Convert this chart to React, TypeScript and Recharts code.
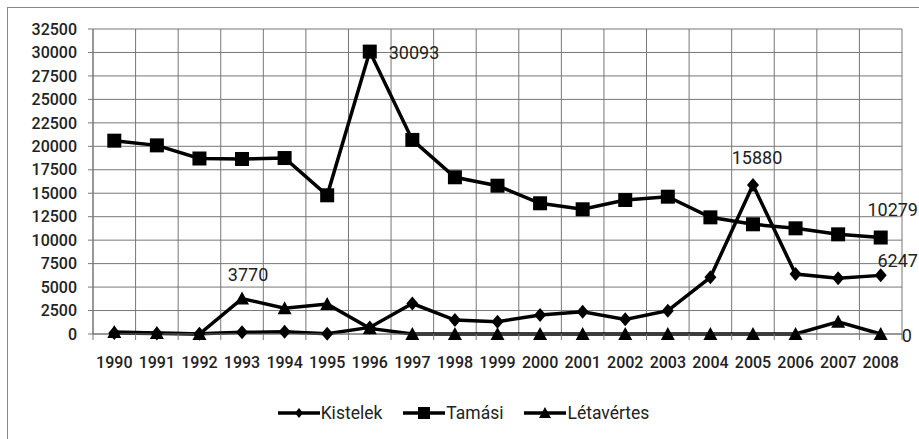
import React from "react";
import { LineChart, Line, XAxis, YAxis, CartesianGrid, LabelList } from "recharts";

const years = [
  "1990", "1991", "1992", "1993", "1994", "1995", "1996", "1997", "1998", "1999",
  "2000", "2001", "2002", "2003", "2004", "2005", "2006", "2007", "2008",
];
const kistelek = [100, 60, 20, 180, 230, 30, 700, 3250, 1490, 1310, 2030, 2380, 1560, 2480, 6040, 15880, 6390, 5930, 6247];
const tamasi = [20600, 20100, 18700, 18650, 18750, 14780, 30093, 20680, 16700, 15800, 13930, 13290, 14280, 14630, 12430, 11690, 11260, 10620, 10279];
const letavertes = [200, 100, 0, 3770, 2750, 3200, 600, 0, 0, 0, 0, 0, 0, 0, 0, 0, 0, 1310, 0];
const yTicks = [0, 2500, 5000, 7500, 10000, 12500, 15000, 17500, 20000, 22500, 25000, 27500, 30000, 32500];

// which points carry a value label
const kistelekLabelled = [15, 18];
const tamasiLabelled = [6, 18];
const letavertesLabelled = [3, 18];

const data = years.map((year, i) => ({
  year,
  kistelek: kistelek[i],
  tamasi: tamasi[i],
  letavertes: letavertes[i],
}));

const FONT = "Roboto, 'Liberation Sans', Arial, sans-serif";
const GRID = "#777";
const INK = "#000";

const W = 919;
const H = 439;
const MARGIN = { top: 29, right: 17, bottom: 55, left: 0 };
const Y_WIDTH = 93;
const X_HEIGHT = 50;
const PLOT_W = W - MARGIN.right - Y_WIDTH;
const HALF_BAND = PLOT_W / years.length / 2;

function diamondPoints(cx: number, cy: number, r = 7) {
  return `${cx},${cy - r} ${cx + r - 1},${cy} ${cx},${cy + r} ${cx - r + 1},${cy}`;
}
function trianglePoints(cx: number, cy: number, r = 7) {
  return `${cx},${cy - r} ${cx + r},${cy + r - 1} ${cx - r},${cy + r - 1}`;
}

const DiamondDot = (p: any) => (
  <polygon key={`d-${p.index}`} points={diamondPoints(p.cx, p.cy)} fill={INK} />
);
const SquareDot = (p: any) => (
  <rect key={`s-${p.index}`} x={p.cx - 7} y={p.cy - 7} width={14} height={14} fill={INK} />
);
const TriangleDot = (p: any) => (
  <polygon key={`t-${p.index}`} points={trianglePoints(p.cx, p.cy)} fill={INK} />
);

type Placement = { dx: number; dy: number; anchor: "start" | "middle" };

function makeLabel(indices: number[], places: Placement[]) {
  return (props: any) => {
    const { x, y, value, index } = props;
    const k = indices.indexOf(index);
    if (k < 0) return null;
    const pl = places[k];
    return (
      <text
        x={x + pl.dx}
        y={y + pl.dy}
        textAnchor={pl.anchor}
        dominantBaseline="central"
        fontFamily={FONT}
        fontSize={18}
        fill="#222"
      >
        {value}
      </text>
    );
  };
}

const kistelekLabel = makeLabel(kistelekLabelled, [
  { dx: 4, dy: -27, anchor: "middle" },
  { dx: 17, dy: -15, anchor: "middle" },
]);
const tamasiLabel = makeLabel(tamasiLabelled, [
  { dx: 19, dy: 1, anchor: "start" },
  { dx: 12, dy: -28, anchor: "middle" },
]);
const letavertesLabel = makeLabel(letavertesLabelled, [
  { dx: 6, dy: -24, anchor: "middle" },
  { dx: 21, dy: 1, anchor: "start" },
]);

function YearTick(props: any) {
  const { x, y, payload, index } = props;
  const last = index === years.length - 1;
  return (
    <g>
      <line x1={x - HALF_BAND} x2={x - HALF_BAND} y1={y} y2={y + 6} stroke={GRID} />
      {last && <line x1={x + HALF_BAND} x2={x + HALF_BAND} y1={y} y2={y + 6} stroke={GRID} />}
      <text x={x} y={y + 34} textAnchor="middle" fontFamily={FONT} fontSize={16} fontWeight={500} fill="#222">
        {payload.value}
      </text>
    </g>
  );
}

function LegendIcon({ kind }: { kind: "diamond" | "square" | "triangle" }) {
  return (
    <svg width={42} height={16} style={{ display: "block" }}>
      <line x1={0} x2={42} y1={8} y2={8} stroke={INK} strokeWidth={3.5} />
      {kind === "diamond" && <polygon points={diamondPoints(21, 8, 5)} fill={INK} />}
      {kind === "square" && <rect x={15} y={2} width={12} height={12} fill={INK} />}
      {kind === "triangle" && <polygon points={trianglePoints(21, 8, 6)} fill={INK} />}
    </svg>
  );
}

const legendItems: { name: string; kind: "diamond" | "square" | "triangle" }[] = [
  { name: "Kistelek", kind: "diamond" },
  { name: "Tamási", kind: "square" },
  { name: "Létavértes", kind: "triangle" },
];

export default function App() {
  return (
    <div style={{ position: "absolute", left: 0, top: 0, width: W, height: H, overflow: "hidden", background: "#fff" }}>
      <div
        style={{
          position: "absolute",
          left: 7,
          top: 7,
          width: 1000,
          height: 1000,
          borderLeft: "1.5px solid #888",
          borderTop: "1.5px solid #888",
        }}
      />
      <div style={{ position: "absolute", left: 0, top: 0 }}>
        <LineChart width={W} height={H} data={data} margin={MARGIN}>
          <CartesianGrid
            stroke={GRID}
            verticalCoordinatesGenerator={({ offset }: any) =>
              Array.from({ length: years.length + 1 }, (_, i) => offset.left + (i * offset.width) / years.length)
            }
          />
          <XAxis
            dataKey="year"
            height={X_HEIGHT}
            interval={0}
            padding={{ left: HALF_BAND, right: HALF_BAND }}
            axisLine={{ stroke: GRID }}
            tickLine={false}
            tickSize={0}
            tickMargin={0}
            tick={<YearTick />}
          />
          <YAxis
            width={Y_WIDTH}
            domain={[0, 32500]}
            ticks={yTicks}
            interval={0}
            axisLine={{ stroke: GRID }}
            tickLine={{ stroke: GRID }}
            tickSize={5}
            tickMargin={11}
            tick={{ fontFamily: FONT, fontSize: 16, fontWeight: 500, fill: "#222" }}
          />
          <Line dataKey="kistelek" stroke={INK} strokeWidth={3.5} dot={DiamondDot} activeDot={false} isAnimationActive={false}>
            <LabelList dataKey="kistelek" content={kistelekLabel} />
          </Line>
          <Line dataKey="tamasi" stroke={INK} strokeWidth={3.5} dot={SquareDot} activeDot={false} isAnimationActive={false}>
            <LabelList dataKey="tamasi" content={tamasiLabel} />
          </Line>
          <Line dataKey="letavertes" stroke={INK} strokeWidth={3.5} dot={TriangleDot} activeDot={false} isAnimationActive={false}>
            <LabelList dataKey="letavertes" content={letavertesLabel} />
          </Line>
        </LineChart>
      </div>
      <div
        style={{
          position: "absolute",
          left: 0,
          top: 403,
          width: W,
          display: "flex",
          justifyContent: "center",
          alignItems: "center",
          gap: 21,
          fontFamily: FONT,
          fontSize: 17.5,
          color: "#222",
          paddingLeft: 4,
        }}
      >
        {legendItems.map((it) => (
          <div key={it.name} style={{ display: "flex", alignItems: "center", gap: 1 }}>
            <LegendIcon kind={it.kind} />
            <span>{it.name}</span>
          </div>
        ))}
      </div>
    </div>
  );
}
